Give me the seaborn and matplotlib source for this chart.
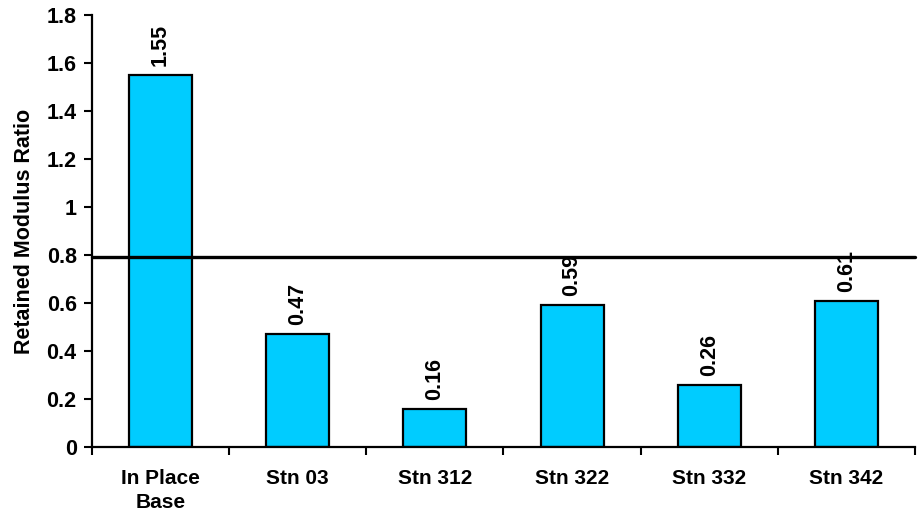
import matplotlib
matplotlib.use("Agg")
import matplotlib.pyplot as plt
import seaborn as sns
import pandas as pd
import numpy as np

categories = ["In Place\nBase", "Stn 03", "Stn 312", "Stn 322", "Stn 332", "Stn 342"]
ratios = [1.55, 0.47, 0.16, 0.59, 0.26, 0.61]
threshold = 0.79
yticks = [0, 0.2, 0.4, 0.6, 0.8, 1.0, 1.2, 1.4, 1.6, 1.8]
ytick_labels = ["0", "0.2", "0.4", "0.6", "0.8", "1", "1.2", "1.4", "1.6", "1.8"]

sns.set_theme(style="ticks")
plt.rcParams["font.family"] = ["Liberation Sans", "DejaVu Sans"]
plt.rcParams["font.weight"] = "bold"
plt.rcParams["text.color"] = "black"
plt.rcParams["axes.labelcolor"] = "black"
plt.rcParams["xtick.color"] = "black"
plt.rcParams["ytick.color"] = "black"

df = pd.DataFrame({"station": categories, "ratio": ratios})

fig = plt.figure(figsize=(9.19, 5.21), dpi=100)
ax = fig.add_axes([0.1001, 0.142, 0.8955, 0.829])

sns.barplot(data=df, x="station", y="ratio", color="#00CCFF", saturation=1,
            width=0.46, edgecolor="black", linewidth=1.6, ax=ax, zorder=2)

for i, v in enumerate(ratios):
    ax.annotate(f"{v:g}", xy=(i, v), xytext=(0, 6.5), textcoords="offset points",
                rotation=90, ha="center", va="bottom", fontsize=15.5,
                fontweight="bold", color="black", zorder=3)

ax.axhline(threshold, color="black", linewidth=2.4, zorder=5, clip_on=False)

ax.set_xlim(-0.5, len(categories) - 0.5)
ax.set_ylim(0, 1.8)
ax.set_yticks(yticks)
ax.set_yticklabels(ytick_labels, fontsize=15.5, fontweight="bold")
ax.set_xticks(range(len(categories)))
ax.set_xticklabels(categories, fontsize=15, fontweight="bold", linespacing=1.35)
ax.set_xticks(np.arange(-0.5, len(categories)), minor=True)
ax.tick_params(axis="x", which="major", length=0, pad=16)
ax.tick_params(axis="x", which="minor", length=6, width=1.5, direction="out")
ax.tick_params(axis="y", which="major", length=6, width=1.5, direction="out", pad=5)

ax.set_xlabel("")
ax.set_ylabel("Retained Modulus Ratio", fontsize=15.5, fontweight="bold", labelpad=8)

sns.despine(ax=ax)
for side in ("left", "bottom"):
    ax.spines[side].set_linewidth(1.6)
    ax.spines[side].set_color("black")

fig.savefig("out.png", dpi=100)
